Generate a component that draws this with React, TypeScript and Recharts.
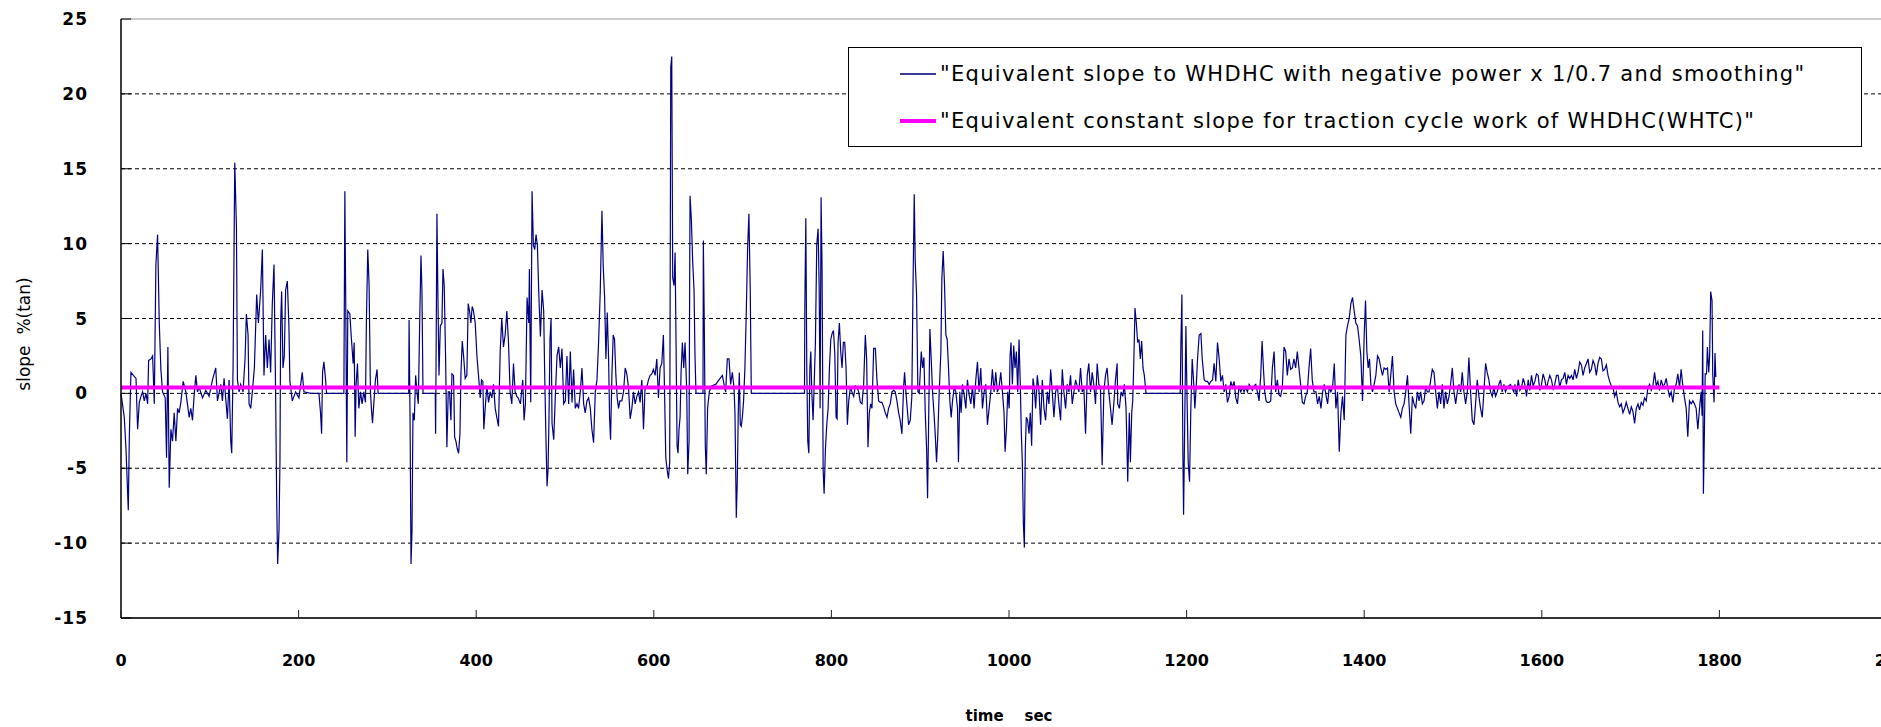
import { LineChart, Line, XAxis, YAxis, ReferenceLine, Legend, Label } from "recharts";

// axis setup
const xTicks = [0, 200, 400, 600, 800, 1000, 1200, 1400, 1600, 1800, 2000];
const yTicks = [-15, -10, -5, 0, 5, 10, 15, 20, 25];
const gridValues = [-10, -5, 0, 5, 10, 15, 20];

const seriesNames = [
  '"Equivalent slope to WHDHC with negative power x 1/0.7 and smoothing"',
  '"Equivalent constant slope for traction cycle work of WHDHC(WHTC)"',
];

// constant slope line
const constantSlope = 0.4;
const constantSpan = [0, 1800];

// [time sec, slope %], one block per stretch of the cycle
const slope0to206: [number, number][] = [
  [0, 0], [3.7, -1.6], [5.6, -3.7], [8.2, -7.8], [9.4, -2.8], [11.2, 1.4], [13.9, 1.2], [16.9, 1.0], [18.7, -2.4], [20.6, -0.6],
  [22.5, -0.2], [24.3, 0.1], [26.2, -0.5], [28.1, 0], [30, -0.7], [31.1, 2.2], [33.7, 2.3], [35.6, 2.5], [37.5, -0.7], [39.3, 8.6],
  [41.2, 10.6], [43.1, 4.7], [44.9, 1.6], [46.8, 0.1], [49.8, -0.3], [51.3, -4.3], [52.8, 3.1], [54.3, -6.3], [56.2, -2.4], [58, -3.2],
  [59.9, -1.3], [61.8, -3.2], [63.7, -1], [65.5, -1.3], [67.4, -0.6], [70, 0.8], [73, 0.1], [76.8, -1.6], [78.6, -1], [80.5, -1.8],
  [82.4, -0.1], [84.3, 1.2], [86.1, 0.1], [88, 0.4], [91.8, -0.3], [95.5, 0.2], [99.2, -0.2], [103, 0.9], [106.7, 1.7], [108.6, -0.5],
  [112.4, 0.6], [114.2, -0.5], [116.1, 1], [119.8, -1.7], [121.7, 0.9], [123.6, -3.2], [124.7, -4], [126.2, 1.7], [128.1, 15.4], [130, 11.1],
  [131.1, 0.9], [133, 0.1], [134.8, 0.6], [137.4, 0.1], [139.7, 2.3], [141.2, 5.3], [143.1, 3.9], [144.2, -0.7], [146.1, -1], [147.9, 0.1],
  [150.2, 1.7], [152.8, 6.6], [154.7, 4.7], [157.3, 6.9], [159.2, 9.6], [161, 1.2], [162.9, 3.9], [164.8, 1.7], [166.7, 3.6], [168.5, 1.4],
  [170.4, 6], [172.3, 8.6], [174.1, 0.1], [175.3, -7], [176.4, -11.4], [177.9, -9.2], [179, -4.6], [179.8, 4.7], [180.9, 6.8], [182.4, 1.7],
  [183.9, 2.5], [185.4, 6.9], [187.3, 7.5], [189.1, 4.5], [190.2, 0.8], [192.9, -0.5], [196.6, 0.1], [200.4, -0.3], [204.1, 1.4], [206, 0.1],
];

const slope213to446: [number, number][] = [
  [213.5, 0], [222.9, 0], [224.7, -1.3], [225.9, -2.7], [227, 1.4], [228.5, 2.1], [230.4, 0.9], [231.5, 0], [251, 0], [252.1, 13.5],
  [253.2, 5], [254.3, -4.6], [255.4, 5.5], [257.7, 5.3], [259.2, 3.9], [261.4, 2], [262.6, 3.4], [263.7, -2.9], [264.8, 0.6], [266.3, 2],
  [267.8, -1], [269.7, 0.1], [271.5, -0.7], [273.4, 0.1], [275.3, -0.6], [276.4, 5], [277.9, 9.6], [279.4, 7.2], [280.9, 0.1], [282, -1],
  [283.2, -2], [284.7, -0.7], [286.5, 0.9], [288.4, 1.6], [289.5, 0], [324, 0], [324.4, 4.9], [325.5, -1.6], [326.6, -11.4], [327.7, -9.2],
  [328.8, -1.3], [330.3, -1.8], [331.8, 1.2], [333.3, 0.1], [334.8, -0.7], [336.3, 4.5], [337.8, 9.2], [338.9, 6.9], [340.1, 0], [353.9, 0],
  [354.3, -2.7], [355.8, 12], [356.9, 6.4], [358.1, 1.2], [359.6, 4.5], [361.4, 4.7], [362.6, 8.3], [364, 7.2], [365.5, 2.5], [367, -3.6],
  [368.5, 0.1], [370, 0.1], [371.5, -1.8], [372.7, 1.3], [374.5, 1.2], [375.7, -2.9], [377.2, -3.2], [378.7, -3.7], [380.2, -4], [381.7, -2.7],
  [382.8, 1.3], [384.3, 3.5], [385.8, 2.5], [387.6, 1], [389.5, 1.2], [391, 6], [392.5, 5.5], [394, 4.7], [395.5, 5.8], [397, 5.5],
  [398.9, 4.7], [400.8, 2.5], [402.6, 1.2], [404.5, -0.3], [406, 0.9], [407.5, 0.8], [408.6, -2.4], [410.1, -1], [412, 0.5], [413.9, -0.6],
  [415.7, 0.1], [417.6, -0.3], [419.5, 0.6], [421.4, -1], [423.2, -1.6], [425.1, -2.2], [427, 2.8], [428.8, 5], [430.7, 3.1], [432.6, 3.9],
  [434.5, 5.5], [436.3, 3.5], [438.2, 0.1], [440.1, -0.7], [442, 2], [443.8, 0.1], [445.7, -0.2],
];

const slope447to665: [number, number][] = [
  [447.2, -0.3], [449.8, -0.7], [452.4, 0.9], [453.9, -1.8], [455.4, -0.7], [457.3, 6.4], [459.2, 4.7], [459.9, 8.3], [461.4, -0.6], [462.9, 13.5],
  [464.4, 9.9], [465.9, 9.6], [467.4, 10.6], [468.9, 9.9], [470.4, 6.8], [472.3, 3.8], [474.2, 6.9], [476, 5.5], [477.1, 1.4], [478.6, -3.2],
  [479.8, -6.2], [480.9, -5.1], [482, -1.6], [483.1, 3.6], [484.3, 5], [485.4, -2], [487.3, -3.1], [489.1, -0.2], [491, 2.5], [492.9, 3.1],
  [494.7, 1.7], [496.6, 3], [498.5, -0.7], [500.4, -0.5], [502.2, 2.5], [504.1, -0.7], [506, 2.8], [507.9, -0.6], [509.7, 1.6], [511.6, -1],
  [513.5, -0.7], [515.3, -1], [517.2, 0.1], [519.1, 1.7], [521, -0.7], [522.8, -1.3], [524.7, -0.5], [526.6, -0.3], [528.5, -1], [530.3, -2.4],
  [532.2, -3.3], [534.1, 0.1], [536, 0.9], [537.8, 3.4], [539.7, 6.8], [541.6, 12.2], [543.1, 8.4], [544.6, 6.4], [546.1, 2.3], [547.6, 5.4],
  [549.1, 2.3], [550.2, -1.6], [551.3, -3.1], [552.8, 1.2], [554.3, 3.9], [555.8, 3.6], [557.3, 1.2], [558.8, -0.3], [560.3, -1], [561.8, -0.5],
  [564, -0.5], [565.9, 0.1], [567.8, 1.7], [569.6, 1.3], [571.5, 0.4], [573.4, -1.7], [575.3, -1], [577.1, 0.1], [579, -0.7], [580.9, -0.2],
  [582.8, 0.1], [584.6, -0.6], [586.5, 0.9], [588.4, -2.4], [590.2, 0.4], [592.1, 0.4], [594, 0.9], [595.9, 1.2], [597.7, 1.3], [599.6, 1.6],
  [601.5, 1.2], [603.4, 2.3], [605.2, -0.3], [607.1, 1.7], [609, 2], [610.8, 3.9], [612, 0.4], [613.5, -4.3], [615, -5.1], [616.5, -5.7],
  [617.9, -4.6], [619.1, 21.8], [620.2, 22.5], [621.3, 7.7], [622.8, 7.2], [624, 9.4], [625.1, 3.1], [626.2, -3.5], [627.3, -4], [628.4, -2.4],
  [629.6, -1.6], [630.7, 1.4], [632.2, 3.4], [633.7, 1.7], [635.2, 3.4], [637.1, 0.1], [638.2, -5.4], [639.7, -3.2], [640.8, 13.2], [642.3, 11.6],
  [643.8, 8.8], [645.3, 6.9], [646.4, 2.5], [647.5, 0], [655.4, 0], [655.8, 10.2], [656.9, 4.3], [658, -3.5], [659.1, -5.4], [660.6, -1],
  [662.5, 0.1], [665.1, 0.5],
];

const slope669to894: [number, number][] = [
  [669.7, 0.6], [673.4, 0.9], [677.2, 1.2], [679.1, 0.6], [680.9, 0.1], [682.8, 2.3], [684.7, 2.3], [686.5, 0.6], [688.4, 1.4], [690.3, 0.4],
  [691.4, -1.3], [692.9, -8.3], [694, -5.9], [695.2, -1], [696.3, 1.4], [697.4, -2.1], [698.5, -2.2], [699.7, -1.6], [701.1, -0.5], [702.6, 1.7],
  [704.1, 5.3], [705.6, 9.6], [707.1, 12], [708.6, 6.9], [709.8, 0], [769.7, 0], [770.1, 5.8], [771.2, 11.7], [772.3, 1.7], [773.4, -3.2],
  [774.6, -4], [775.7, 1.6], [776.8, 2.8], [777.9, 0.1], [779.4, -1.8], [780.9, 1.2], [782, 3.4], [783.5, 9.9], [785, 11], [786.2, 7.2],
  [787.3, -1], [788.4, 13.1], [789.5, 8.3], [790.7, -5.1], [791.8, -6.7], [793.3, -3.7], [794.8, -2.1], [796.3, -1], [797.8, 1.7], [799.3, 3.6],
  [800.8, 4], [802.3, 4.2], [803.8, 2.7], [805.3, -1.6], [806.4, -1.7], [807.5, 3.4], [809, 4.7], [810.5, 2.8], [812, 1.7], [813.5, 3.4],
  [815, 3.4], [816.5, 1.7], [818, -2.1], [819.5, -0.5], [821.4, 0.4], [823.2, 0.1], [825.1, -0.2], [827, 0.5], [828.9, 0.4], [830.7, 0.1],
  [832.6, -0.6], [834.5, -0.7], [836.3, 0.6], [838.2, 3.9], [839.7, 2.3], [841.2, -3.6], [842.7, -1.3], [844.2, -0.7], [845.7, -1], [847.6, 3],
  [849.5, 3], [851.3, 0.9], [853.2, -0.5], [855.1, -0.6], [856.9, -0.6], [858.8, -0.9], [860.7, -1.3], [862.6, -1.6], [864.4, -1], [866.3, -0.7],
  [868.2, 0.1], [870.1, 0.2], [871.9, 0.1], [873.8, -0.5], [875.7, -1.3], [877.5, -1.8], [879.4, -2.7], [881.3, 0.4], [882.4, 1.4], [883.9, 0.1],
  [885.4, -1], [886.9, -2.1], [888.8, -1.8], [890.6, -0.2], [891.8, 6.6], [893.3, 13.3], [894.4, 8.8],
];

const slope895to1122: [number, number][] = [
  [895.9, 6.6], [897.4, 0.1], [898.9, 0], [901.2, 2.8], [902.7, 1.7], [904.2, 2.4], [905.7, -1.3], [907.2, -3.7], [908.3, -7], [909.4, -2.4],
  [910.9, 4.3], [912.4, 2.3], [913.9, 0.1], [915.8, -1.6], [916.9, -2.7], [918.4, -4.6], [919.9, -2.7], [921.4, 0.1], [923.3, 2.8], [924.4, 7.7],
  [925.9, 9.5], [927.4, 7.2], [928.9, 3.9], [930.4, 3.6], [931.9, 1.7], [933.4, -0.5], [934.9, -1.6], [936.4, -0.5], [938.3, 0.4], [940.1, 0.1],
  [942, -1], [943.1, -4.6], [944.6, 0.1], [946.1, -1.3], [947.6, 0.6], [949.5, -0.1], [951.4, -1], [953.2, 0.9], [955.1, -0.1], [957, -0.7],
  [958.9, 0.5], [960.7, -1], [962.6, 0.9], [964.5, 2.1], [966.3, 0.1], [968.2, 1.7], [970.1, -1], [972, 0.1], [973.8, 0.6], [975.7, -2.1],
  [977.6, -1], [979.5, 0.1], [981.3, 1.6], [983.2, 0.1], [985.1, 1.4], [986.9, 0.1], [988.8, 0.4], [990.7, 1.4], [992.6, 0.1], [994.4, -1.3],
  [995.6, -3.9], [997.1, -2.4], [998.6, 0.1], [1000.2, -1], [1001.2, 2.5], [1002.3, 3.4], [1003.8, 0.6], [1005.3, 3.2], [1006.8, 1.7], [1008.3, 2.8],
  [1009.8, 0.1], [1011.3, 3.6], [1012.8, 0.4], [1013.9, -2.7], [1015, -4.6], [1016.2, -8.7], [1017.3, -10.3], [1018.4, -3.7], [1019.5, -1.6], [1021, -1.8],
  [1022.5, -2.7], [1024, -1.3], [1025.5, -3.5], [1027, 1], [1028.5, 0.4], [1030, -1], [1031.9, 1.2], [1033.8, 0.1], [1035.6, -2.1], [1037.5, 0.9],
  [1039.4, -1], [1041.2, -1.8], [1043.1, 0.1], [1045, -0.7], [1046.9, 1.6], [1048.7, 0.1], [1050.6, -1.6], [1052.5, 0.1], [1054.4, 0.5], [1056.2, -0.7],
  [1058.1, -1.8], [1060, 1.6], [1061.8, 0.1], [1063.7, -1], [1065.6, 0.6], [1067.5, 0.1], [1069.3, 1.2], [1071.2, -0.7], [1073.1, 0.1], [1075, 0.9],
  [1076.8, 0.5], [1078.7, 0.1], [1080.6, 1.7], [1082.4, 0.1], [1084.3, 0.4], [1086.2, -2.7], [1088.1, 1.2], [1089.9, 2], [1091.8, 0.1], [1093.7, 1.4],
  [1095.5, 0.6], [1097.4, -0.7], [1099.3, 2], [1101.2, 0.6], [1103, 0.4], [1104.9, -4.8], [1106.8, 0.1], [1108.7, 1.2], [1110.5, 1.7], [1112.4, 0.1],
  [1114.3, -1], [1116.1, -2.1], [1118, -0.7], [1119.9, 0.9], [1121.8, 2],
];

const slope1122to1344: [number, number][] = [
  [1122.4, -0.7], [1124.3, -1], [1126.2, 0.1], [1128.1, -0.2], [1129.9, 0.6], [1131.8, -1], [1133.7, -5.9], [1135.5, -1.3], [1136.7, -4.6], [1138.2, -1.3],
  [1139.3, -0.5], [1140.4, 1.7], [1141.9, 5.7], [1143.4, 4.7], [1144.9, 3.4], [1146.4, 3.6], [1147.9, 2.3], [1149.4, 3.5], [1150.9, 1.7], [1152.4, 1.2],
  [1154.3, 0], [1192.8, 0], [1193.6, 3.4], [1194.7, 6.6], [1195.8, -4], [1196.6, -8.1], [1198.1, -1], [1199.2, 4.5], [1200.3, 0.4], [1201.8, -4.6],
  [1203.3, -5.9], [1204.8, -1], [1206.3, 2.3], [1207.8, 0.9], [1209.3, -1], [1210.8, 0.4], [1212.3, 2.3], [1214.2, 3.9], [1216.1, 4], [1217.6, 2.3],
  [1219.8, 0.9], [1221.7, 0.8], [1223.6, 0.8], [1225.4, 0.6], [1227.3, 0.8], [1229.2, 0.9], [1231, 2], [1232.9, 0.8], [1234.8, 3.4], [1236.7, 2.3],
  [1238.5, 0.8], [1240.4, 1.2], [1242.3, 0.1], [1244.1, 0.6], [1246, -0.6], [1247.9, -0.2], [1249.8, 0.8], [1251.6, 0.4], [1253.5, 0.8], [1255.4, -0.3],
  [1257.3, -0.7], [1259.1, 0.5], [1261, 0.1], [1262.9, 0.4], [1264.7, 0.1], [1266.6, 0.4], [1268.5, 0.1], [1270.4, 0.6], [1272.2, 0.4], [1274.1, 0.2],
  [1276, 0.5], [1277.9, 0.6], [1279.7, 0.1], [1281.6, -0.5], [1283.5, 1.2], [1285, 3.5], [1286.5, 1.7], [1288, 0.1], [1289.5, -0.5], [1291, -0.6],
  [1292.8, -0.6], [1294.7, -0.5], [1296.6, 1.7], [1298.5, 2.8], [1300.3, 0.1], [1302.2, 0.9], [1304.1, -0.1], [1305.9, -0.2], [1307.8, 0.4], [1309.7, 3.1],
  [1311.6, 2.8], [1313.4, 1.2], [1315.3, 2.3], [1317.2, 1.6], [1319.1, 1.7], [1320.9, 2.3], [1322.8, 1.7], [1324.7, 2.8], [1326.5, 1.7], [1328.4, 0.6],
  [1330.3, -0.6], [1332.2, -0.7], [1334, -0.2], [1335.9, 0.1], [1337.8, 1.7], [1339.7, 3], [1341.5, 0.9], [1343.4, 0.1],
];

const slope1345to1569: [number, number][] = [
  [1345.7, 0.1], [1347.5, -0.7], [1349.4, -0.2], [1351.3, -1], [1353.2, 0.1], [1355, 0.6], [1356.9, -0.1], [1358.8, -0.7], [1360.6, 0.4], [1362.5, 0.1],
  [1364.4, 0.4], [1366.3, 2], [1368.1, -1], [1370, 0.1], [1371.9, -3.9], [1373.8, -1.3], [1375.6, -0.2], [1377.5, -1.8], [1379.4, 3.9], [1381.2, 4.5],
  [1383.1, 5], [1385, 6], [1386.9, 6.4], [1388.7, 5.5], [1390.6, 4.7], [1392.5, 4.5], [1394.3, 3.6], [1396.2, 2.5], [1398.1, -0.5], [1400, 3.9],
  [1401.5, 6.2], [1403, 2.8], [1404.5, 1.7], [1406, 2.3], [1407.5, 0.6], [1409.3, 0.1], [1411.2, 0.6], [1413.1, 1.2], [1415, 2.5], [1416.8, 2.3],
  [1418.7, 1.7], [1420.6, 1.2], [1422.4, 1.7], [1424.3, 1.6], [1426.2, 1.7], [1428.1, 0.1], [1429.9, 1.2], [1431.8, 2.5], [1433.7, 0.1], [1435.5, -0.7],
  [1437.4, -1], [1439.3, -1.3], [1441.2, -1.6], [1443, -1], [1444.9, -0.7], [1446.8, 0.1], [1448.7, 1.2], [1450.5, -0.7], [1452.4, -2.7], [1454.3, -0.2],
  [1456.1, -0.7], [1458, -1], [1459.9, 0.1], [1461.8, -0.5], [1463.6, 0.1], [1465.5, -0.7], [1467.4, -0.5], [1469.2, 0.4], [1471.1, 0.1], [1473, 0.1],
  [1474.9, 0.9], [1476.7, 1.6], [1478.6, 1.4], [1480.5, 0.1], [1482.4, -1], [1484.2, 0.1], [1486.1, -0.7], [1488, 0.6], [1489.8, -1], [1491.7, 0.1],
  [1493.6, -0.7], [1495.5, -0.2], [1497.3, 0.6], [1499.2, 1.7], [1501.1, 0.1], [1503, -0.7], [1504.8, 0.1], [1506.7, 0.6], [1508.6, 0.1], [1510.4, 1.4],
  [1512.3, 0.1], [1514.2, -0.7], [1516.1, 0.1], [1517.9, 2.4], [1519.8, 0.1], [1521.7, -1.8], [1523.6, -2.1], [1525.4, -0.7], [1527.3, 0.9], [1529.2, -0.2],
  [1531, -1], [1532.9, -1.6], [1534.8, 0.1], [1536.7, 2], [1538.5, 1.4], [1540.4, 0.9], [1542.3, 0.1], [1544.2, -0.2], [1546, 0.4], [1547.9, -0.2],
  [1549.8, 0.1], [1551.6, 0.6], [1553.5, 0.9], [1555.4, 0.1], [1557.3, 0.6], [1559.1, 0.1], [1561, 0.4], [1564.7, 0.6], [1568.5, 0.1],
];

const slope1570to1796: [number, number][] = [
  [1569.7, 0.6], [1571.6, -0.2], [1573.4, 0.9], [1575.3, 0.2], [1577.2, 0.4], [1579.1, 1], [1580.9, 0.6], [1582.8, -0.2], [1584.7, 0.9], [1586.5, 0.2],
  [1588.4, 1.2], [1590.3, 0.5], [1592.2, 0.8], [1594, 1.3], [1595.9, 1.2], [1597.8, 0.2], [1599.7, 0.6], [1601.5, 1.3], [1603.4, 0.9], [1605.3, 0.3],
  [1607.1, 0.8], [1609, 1.2], [1610.9, 0.9], [1612.8, 0.3], [1614.6, 0.6], [1616.5, 1.2], [1618.4, 1.2], [1620.2, 0.4], [1622.1, 0.9], [1624, 1],
  [1625.9, 1.4], [1627.7, 0.6], [1629.6, 1.2], [1631.5, 1], [1633.4, 1.2], [1635.2, 0.9], [1637.1, 1.6], [1639, 1], [1640.8, 1.4], [1642.7, 2.1],
  [1644.6, 1.9], [1646.5, 1.2], [1648.3, 1.7], [1650.2, 2], [1652.1, 2.3], [1653.9, 1.4], [1655.8, 1.6], [1657.7, 2.2], [1659.6, 1.9], [1661.4, 1.2],
  [1663.3, 2], [1665.2, 2.4], [1667.1, 2.3], [1668.9, 1.5], [1670.8, 1.6], [1672.7, 1.9], [1674.6, 1.2], [1676.4, 0.8], [1678.3, 0.5], [1680.2, 0.4],
  [1682, -0.2], [1683.9, 0.1], [1685.8, -0.6], [1687.7, -0.9], [1689.5, -0.7], [1691.4, -1.3], [1693.3, -1], [1695.1, -0.6], [1697, -1], [1698.9, -1.4],
  [1700.8, -0.9], [1702.6, -1.2], [1704.5, -2], [1706.4, -1], [1708.3, -0.7], [1710.1, -1.1], [1712, -0.6], [1713.9, -0.8], [1715.7, -0.3], [1717.6, -0.5],
  [1719.5, 0.4], [1721.4, 0.6], [1723.2, 0.2], [1725.1, 0.5], [1727, 1.4], [1728.9, 0.5], [1730.7, 0.8], [1732.6, 0.2], [1734.5, 0.9], [1736.3, 0.5],
  [1738.2, 0.6], [1740.1, 1], [1742, 0.3], [1743.8, -0.2], [1745.7, 0.1], [1747.6, -0.6], [1749.5, 0.4], [1751.3, 0.6], [1753.2, 1.3], [1755.1, 0.4],
  [1756.9, 1.6], [1758.8, 0.5], [1760.7, -0.3], [1762.6, -1], [1764.4, -2.9], [1766.3, -0.5], [1768.2, -0.7], [1770.1, -0.5], [1771.9, -0.7], [1773.8, -1],
  [1775.7, -2.4], [1777.6, -1], [1779.4, 0.1], [1780.5, -1.5], [1781.2, 4.2], [1782, -6.7], [1783, -3], [1784, 1.3], [1785.5, 1.3], [1786.5, 3.1],
  [1788, 1.4], [1789, 2.5], [1790.2, 6.8], [1791.7, 6.2], [1792.5, 1.3], [1794, -0.6], [1795, 2.7], [1796, 1.1],
];

const slopeData = [
  ...slope0to206, ...slope213to446, ...slope447to665, ...slope669to894,
  ...slope895to1122, ...slope1122to1344, ...slope1345to1569, ...slope1570to1796,
].map(([t, slope]) => ({ t, slope }));

const constantData = constantSpan.map((t) => ({ t, constant: constantSlope }));

const legendItems = [
  { name: seriesNames[0], color: "#3a3a98", thick: 1.5 },
  { name: seriesNames[1], color: "#ff00ff", thick: 4 },
];

const tickFont = '"DejaVu Sans", sans-serif';

function XTick(props: any) {
  const { x, y, payload } = props;
  return (
    <g>
      <line x1={x} x2={x} y1={y} y2={y - 8} stroke="#222" strokeWidth={1} />
      <text x={x} y={y + 42} textAnchor="middle" dominantBaseline="central" fontFamily={tickFont} fontWeight="bold" fontSize={16} fill="#000">
        {payload.value}
      </text>
    </g>
  );
}

function YTick(props: any) {
  const { x, y, payload } = props;
  return (
    <g>
      <line x1={x} x2={x + 10} y1={y} y2={y} stroke="#000" strokeWidth={1} />
      <text x={x - 33} y={y} textAnchor="end" dominantBaseline="central" fontFamily={tickFont} fontWeight="bold" fontSize={17} letterSpacing={1} fill="#000">
        {payload.value}
      </text>
    </g>
  );
}

function SlopeLegend() {
  return (
    <div
      style={{
        position: "relative",
        width: 1014,
        height: 100,
        border: "1.5px solid #000",
        background: "#fff",
        boxSizing: "border-box",
        fontFamily: tickFont,
        fontSize: 21,
        color: "#000",
      }}
    >
      {legendItems.map((item, i) => (
        <div
          key={item.name}
          style={{ position: "absolute", left: 51, top: i === 0 ? 12 : 59, height: 28, display: "flex", alignItems: "center", whiteSpace: "nowrap" }}
        >
          <span style={{ display: "inline-block", width: 36, height: item.thick, background: item.color, marginRight: 4 }} />
          <span style={{ letterSpacing: 1.3 }}>{item.name}</span>
        </div>
      ))}
    </div>
  );
}

export default function App() {
  return (
    <div style={{ position: "fixed", left: 0, top: 0, width: 1881, height: 727, overflow: "hidden", background: "#fff" }}>
      <LineChart width={1912} height={727} margin={{ top: 19, right: 15, bottom: 0, left: 0 }}>
        <XAxis
          dataKey="t"
          type="number"
          domain={[0, 2000]}
          ticks={xTicks}
          interval={0}
          height={109}
          tickSize={0}
          tickMargin={0}
          axisLine={{ stroke: "#333", strokeWidth: 2 }}
          tickLine={false}
          tick={XTick}
        >
          <Label
            content={(p: any) => (
              <text
                x={p.viewBox.x + p.viewBox.width / 2}
                y={716}
                textAnchor="middle"
                dominantBaseline="central"
                fontFamily={tickFont}
                fontWeight="bold"
                fontSize={15}
                style={{ whiteSpace: "pre" }}
              >
                {"time    sec"}
              </text>
            )}
          />
        </XAxis>
        <YAxis
          type="number"
          domain={[-15, 25]}
          ticks={yTicks}
          interval={0}
          width={121}
          tickSize={0}
          tickMargin={0}
          axisLine={{ stroke: "#000", strokeWidth: 1.5 }}
          tickLine={false}
          tick={YTick}
        >
          <Label
            content={() => (
              <text
                transform="translate(24 334) rotate(-90)"
                textAnchor="middle"
                dominantBaseline="central"
                fontFamily={tickFont}
                fontSize={17}
                style={{ whiteSpace: "pre" }}
              >
                {"slope  %(tan)"}
              </text>
            )}
          />
        </YAxis>
        <ReferenceLine y={25} stroke="#999" strokeWidth={1} />
        {gridValues.map((v) => (
          <ReferenceLine key={v} y={v} stroke="#000" strokeWidth={1} strokeDasharray="4 3" />
        ))}
        <Legend
          layout="vertical"
          align="center"
          verticalAlign="middle"
          content={() => <SlopeLegend />}
          wrapperStyle={{ left: 848, top: 47, width: 1014, height: 100 }}
        />
        <Line
          data={slopeData}
          dataKey="slope"
          name={seriesNames[0]}
          type="linear"
          stroke="#000080"
          strokeWidth={1.2}
          dot={false}
          isAnimationActive={false}
        />
        <Line
          data={constantData}
          dataKey="constant"
          name={seriesNames[1]}
          type="linear"
          stroke="#ff00ff"
          strokeWidth={4}
          dot={false}
          isAnimationActive={false}
        />
      </LineChart>
    </div>
  );
}
